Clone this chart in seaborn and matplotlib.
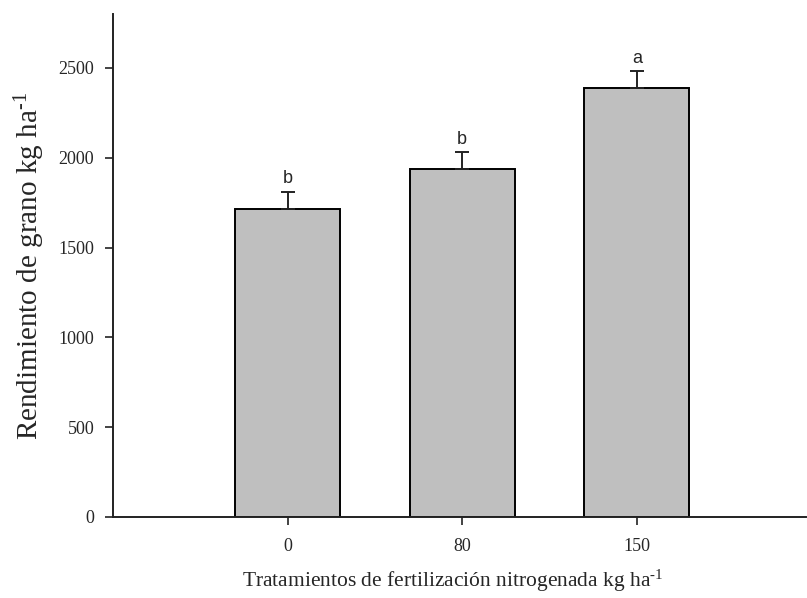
"""Grain yield by nitrogen fertilization treatment."""
import matplotlib
matplotlib.use("Agg")
import matplotlib.pyplot as plt
import numpy as np
import pandas as pd
import seaborn as sns

treatments = ["0", "80", "150"]
yield_mean = [1715, 1935, 2387]
yield_se = [96, 95, 94]
letters = ["b", "b", "a"]

sns.set_style("ticks")
plt.rcParams["font.family"] = ["Liberation Serif", "DejaVu Serif"]
plt.rcParams["mathtext.fontset"] = "custom"
plt.rcParams["mathtext.rm"] = "Liberation Serif"
plt.rcParams["mathtext.it"] = "Liberation Serif"

df = pd.DataFrame({"trat": treatments, "rend": yield_mean})

fig = plt.figure(figsize=(8.07, 5.98), dpi=100)
ax = fig.add_axes([0.140, 0.1355, 0.859, 0.841])

sns.barplot(data=df, x="trat", y="rend", order=treatments, width=0.6,
            color="#bfbfbf", edgecolor="black", linewidth=1.4,
            errorbar=None, saturation=1, ax=ax)

pos = np.arange(len(treatments))
ax.errorbar(pos, yield_mean, yerr=[np.zeros(len(pos)), yield_se],
            fmt="none", ecolor="#222222", elinewidth=1.4, capsize=5.2,
            capthick=1.4, zorder=1)

for x, m, e, lab in zip(pos, yield_mean, yield_se, letters):
    ax.text(x, m + e + 25, lab, ha="center", va="bottom", fontsize=13,
            family="Liberation Sans")

ax.set_xlim(-1.0, 2.97)
ax.set_ylim(0, 2800)
ax.set_yticks([0, 500, 1000, 1500, 2000, 2500])
ax.tick_params(axis="both", labelsize=13, length=6, width=1.2,
               direction="out", color="#222222")
ax.tick_params(axis="x", pad=9)
ax.tick_params(axis="y", pad=7.5)
for s in ["left", "bottom"]:
    ax.spines[s].set_linewidth(1.4)
    ax.spines[s].set_color("#222222")
sns.despine(ax=ax)

ax.set_xlabel(r"Tratamientos de fertilización nitrogenada kg ha$^{\text{-}1}$",
              fontsize=15.5)
ax.set_ylabel(r"Rendimiento de grano kg ha$^{\text{-}1}$", fontsize=21)
ax.xaxis.set_label_coords(0.49, -0.101)
ax.yaxis.set_label_coords(-0.095, 0.5)

fig.savefig("out.png", dpi=100)
